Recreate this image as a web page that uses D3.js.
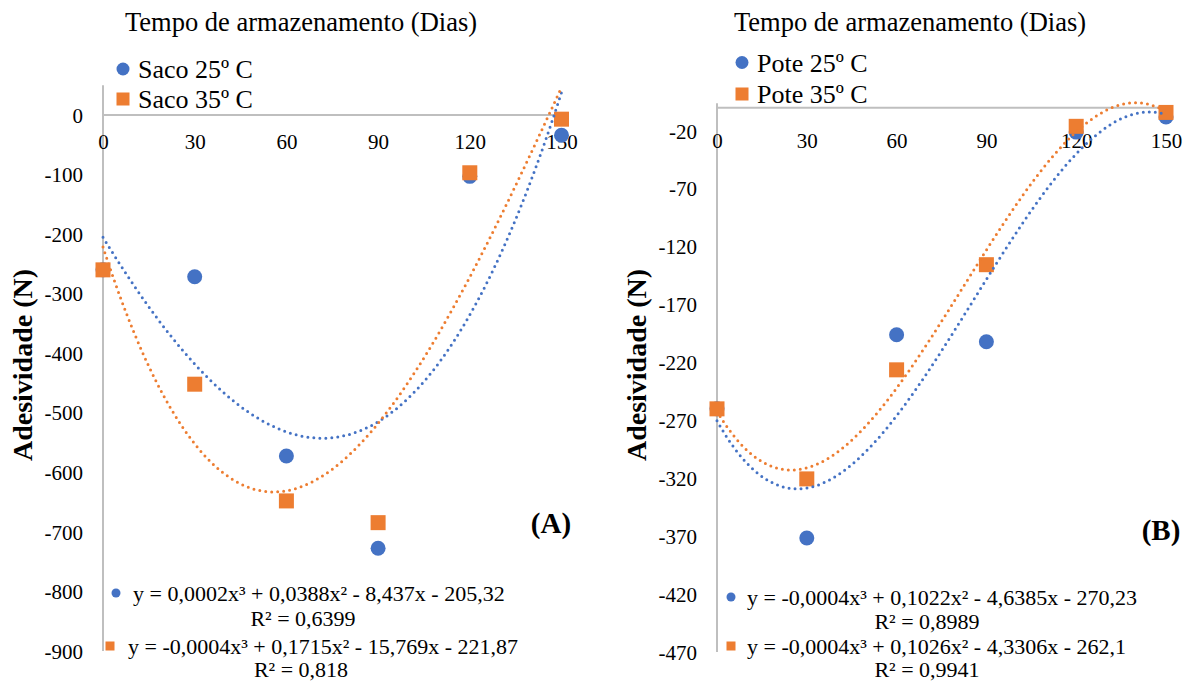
<!DOCTYPE html>
<html>
<head>
<meta charset="utf-8">
<script src="https://cdn.jsdelivr.net/npm/d3@7"></script>
<style>
  body { margin: 0; background: #fff; }
  svg { display: block; }
  text { font-family: "Liberation Serif", "Times New Roman", serif; fill: #000; }
</style>
</head>
<body>
<svg id="chart" width="1195" height="682"></svg>
<script>
// Storage time (days)
const days = [0, 30, 60, 90, 120, 150];

// Adhesiveness (N) — bag packaging
const sacoTemp25 = [-260, -271.5, -572.5, -727.5, -103, -34];
const sacoTemp35 = [-260, -452, -648, -684.5, -97, -7];
const sacoTicks = [0, -100, -200, -300, -400, -500, -600, -700, -800, -900];
const sacoSeriesNames = ["Saco 25º C", "Saco 35º C"];
const sacoEquations = ["y = 0,0002x³ + 0,0388x² - 8,437x - 205,32",
                       "y = -0,0004x³ + 0,1715x² - 15,769x - 221,87"];
const sacoR2 = ["R² = 0,6399", "R² = 0,818"];

// Adhesiveness (N) — pot packaging
const poteTemp25 = [-260, -371.5, -196, -202, -21, -8];
const poteTemp35 = [-260, -320.5, -226.3, -135.5, -16, -4];
const poteTicks = [-20, -70, -120, -170, -220, -270, -320, -370, -420, -470];
const poteSeriesNames = ["Pote 25º C", "Pote 35º C"];
const poteEquations = ["y = -0,0004x³ + 0,1022x² - 4,6385x - 270,23",
                       "y = -0,0004x³ + 0,1026x² - 4,3306x - 262,1"];
const poteR2 = ["R² = 0,8989", "R² = 0,9941"];

const xTitle = "Tempo de armazenamento (Dias)";
const yTitle = "Adesividade (N)";

const BLUE = "#4472C4", ORANGE = "#ED7D31", AXIS = "#BFBFBF";

// Least-squares cubic polynomial (trend line), solved via normal equations
function cubicFit(xs, ys) {
  const s = 30; // rescale x for numerical stability
  const n = 4;
  const A = Array.from({length: n}, () => new Array(n + 1).fill(0));
  xs.forEach((x0, k) => {
    const t = x0 / s;
    const p = [1, t, t * t, t * t * t];
    for (let i = 0; i < n; i++) {
      for (let j = 0; j < n; j++) A[i][j] += p[i] * p[j];
      A[i][n] += p[i] * ys[k];
    }
  });
  for (let c = 0; c < n; c++) {
    let piv = c;
    for (let r = c + 1; r < n; r++) if (Math.abs(A[r][c]) > Math.abs(A[piv][c])) piv = r;
    [A[c], A[piv]] = [A[piv], A[c]];
    for (let r = 0; r < n; r++) {
      if (r === c) continue;
      const f = A[r][c] / A[c][c];
      for (let k = c; k <= n; k++) A[r][k] -= f * A[c][k];
    }
  }
  const b = A.map((row, i) => row[n] / row[i]);
  return x0 => { const t = x0 / s; return b[0] + b[1] * t + b[2] * t * t + b[3] * t * t * t; };
}

// plain hyphen-minus tick labels
const plain = d => String(d);

const svg = d3.select("#chart");

function drawPanel(cfg) {
  const g = svg.append("g");
  const x = d3.scaleLinear().domain([0, 150]).range([cfg.x0, cfg.x1]);
  const y = d3.scaleLinear().domain(cfg.yDomain).range(cfg.yRange);

  // vertical axis line
  g.append("line")
    .attr("x1", x(0)).attr("x2", x(0))
    .attr("y1", y(cfg.yDomain[1])).attr("y2", y(cfg.yDomain[0]))
    .attr("stroke", AXIS).attr("stroke-width", 2);
  // horizontal axis line crossing at zero
  g.append("line")
    .attr("x1", x(0)).attr("x2", x(150))
    .attr("y1", y(0)).attr("y2", y(0))
    .attr("stroke", AXIS).attr("stroke-width", 2);

  // y tick labels
  const ya = g.append("g").attr("transform", `translate(${x(0)},0)`)
    .call(d3.axisLeft(y).tickValues(cfg.yTicks).tickSize(0).tickPadding(20).tickFormat(plain));
  ya.select(".domain").remove();
  ya.selectAll("text").style("font-size", "21px").attr("dy", "0.34em")
    .style("font-family", '"Liberation Serif", serif');

  // x tick labels hanging below the zero line
  const xa = g.append("g").attr("transform", `translate(0,${y(0)})`)
    .call(d3.axisBottom(x).tickValues(days).tickSize(0).tickPadding(cfg.xPad).tickFormat(plain));
  xa.select(".domain").remove();
  xa.selectAll("text").style("font-size", "21px")
    .style("font-family", '"Liberation Serif", serif');

  // titles
  g.append("text").attr("x", cfg.titleX).attr("y", 31)
    .attr("text-anchor", "middle").style("font-size", "26.5px").text(xTitle);
  g.append("text")
    .attr("transform", `translate(${cfg.yTitleX},365) rotate(-90)`)
    .attr("text-anchor", "middle").attr("dy", "0.35em")
    .style("font-size", "28px").style("font-weight", "bold").text(yTitle);

  // legend
  const leg = g.append("g");
  leg.append("circle").attr("cx", cfg.legX).attr("cy", cfg.legY[0]).attr("r", 6.5).attr("fill", BLUE);
  leg.append("rect").attr("x", cfg.legX - 6.5).attr("y", cfg.legY[1] - 6.5)
    .attr("width", 13).attr("height", 13).attr("fill", ORANGE);
  cfg.names.forEach((nm, i) => {
    leg.append("text").attr("x", cfg.legX + 15).attr("y", cfg.legY[i]).attr("dy", "0.35em")
      .style("font-size", "26px").text(nm);
  });

  // markers: 25 °C circles, then 35 °C squares on top
  g.append("g").selectAll("circle").data(days).join("circle")
    .attr("cx", d => x(d)).attr("cy", (d, i) => y(cfg.s25[i])).attr("r", 7.5).attr("fill", BLUE);
  g.append("g").selectAll("rect").data(days).join("rect")
    .attr("x", d => x(d) - 7.5).attr("y", (d, i) => y(cfg.s35[i]) - 7.5)
    .attr("width", 15).attr("height", 15).attr("fill", ORANGE);

  // dotted cubic trend lines
  const samples = d3.range(0, 150.01, 1);
  [[cfg.s25, BLUE], [cfg.s35, ORANGE]].forEach(([vals, col]) => {
    const f = cubicFit(days, vals);
    const line = d3.line().x(d => x(d)).y(d => y(f(d)));
    g.append("path").attr("d", line(samples))
      .attr("fill", "none").attr("stroke", col).attr("stroke-width", 3)
      .attr("stroke-linecap", "round").attr("stroke-dasharray", "0 6");
  });

  // equation labels
  const eq = g.append("g");
  eq.append("circle").attr("cx", cfg.eqMarkX[0]).attr("cy", cfg.eqY[0]).attr("r", 4.5).attr("fill", BLUE);
  eq.append("rect").attr("x", cfg.eqMarkX[1] - 4.5).attr("y", cfg.eqY[1] - 4.5)
    .attr("width", 9).attr("height", 9).attr("fill", ORANGE);
  cfg.eqs.forEach((t, i) => {
    eq.append("text").attr("x", cfg.eqTextX[i]).attr("y", cfg.eqY[i]).attr("dy", "0.35em")
      .style("font-size", "22px").text(t);
    eq.append("text").attr("x", cfg.r2X[i]).attr("y", cfg.r2Y[i]).attr("dy", "0.35em")
      .attr("text-anchor", "middle").style("font-size", "22px").text(cfg.r2[i]);
  });

  // panel tag
  g.append("text").attr("x", cfg.tag[0]).attr("y", cfg.tag[1]).attr("dy", "0.35em")
    .attr("text-anchor", "middle").style("font-size", "29px").style("font-weight", "bold").text(cfg.tag[2]);
}

drawPanel({
  x0: 103, x1: 561.5,
  yDomain: [-900, 50], yRange: [651, 115 - 50 * 0.5956],
  yTicks: sacoTicks, xPad: 19,
  titleX: 301, yTitleX: 22,
  legX: 123, legY: [69, 99], names: sacoSeriesNames,
  s25: sacoTemp25, s35: sacoTemp35,
  eqs: sacoEquations, r2: sacoR2,
  eqMarkX: [116, 110], eqTextX: [133, 128], eqY: [593, 646],
  r2X: [303, 301], r2Y: [618, 669],
  tag: [551, 523, "(A)"]
});

drawPanel({
  x0: 717, x1: 1166,
  yDomain: [-470, 4], yRange: [652, 107.8 - 4 * 1.1579],
  yTicks: poteTicks, xPad: 25,
  titleX: 910, yTitleX: 636,
  legX: 742, legY: [62.5, 94], names: poteSeriesNames,
  s25: poteTemp25, s35: poteTemp35,
  eqs: poteEquations, r2: poteR2,
  eqMarkX: [731, 731], eqTextX: [747, 747], eqY: [597, 646],
  r2X: [927, 927], r2Y: [621, 669],
  tag: [1161, 530, "(B)"]
});
</script>
</body>
</html>
